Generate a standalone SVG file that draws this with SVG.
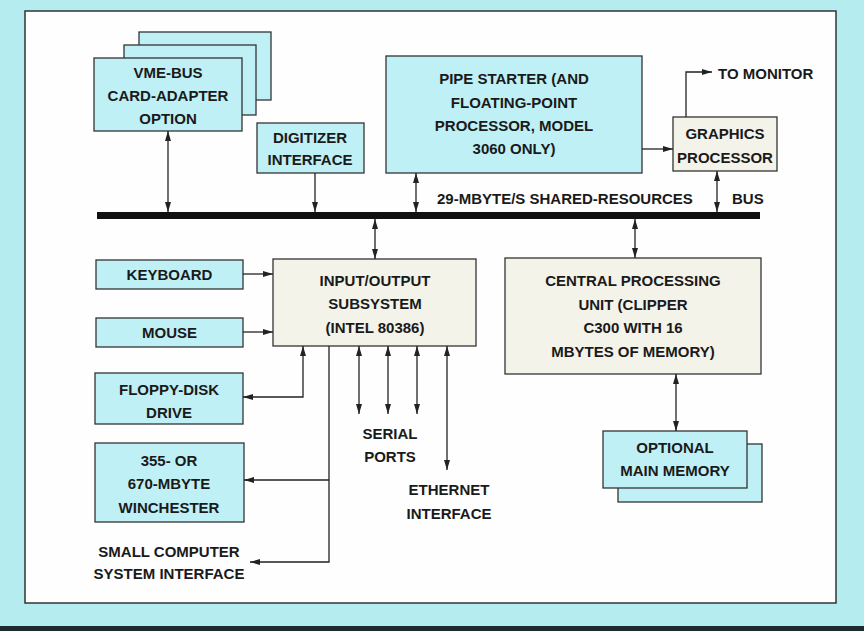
<svg xmlns="http://www.w3.org/2000/svg" width="864" height="631" viewBox="0 0 864 631">
<style>
.bx{fill:#bff0f5;stroke:#333;stroke-width:1.3}
.bg{fill:#f3f3ea;stroke:#333;stroke-width:1.3}
text{font-family:"Liberation Sans",Arial,sans-serif;font-size:15px;font-weight:bold;fill:#1a1a1a}
.m{text-anchor:middle}
.c line,.c path{stroke:#222;stroke-width:1.3;fill:none}
</style>
<defs>
<marker id="a" markerUnits="userSpaceOnUse" markerWidth="10" markerHeight="6" refX="10" refY="3" orient="auto-start-reverse">
<path d="M0,0 L10,3 L0,6 z" fill="#222"/>
</marker>
</defs>
<rect x="0" y="0" width="864" height="631" fill="#b5ecf0"/>
<rect x="0" y="626" width="864" height="5" fill="#1e2a2e"/>
<rect x="25" y="11" width="811" height="592" fill="#fefefe" stroke="#333" stroke-width="1.5"/>

<g id="vme">
<rect class="bx" x="139" y="32" width="132" height="68"/>
<rect class="bx" x="124" y="45" width="132" height="70"/>
<rect class="bx" x="94" y="58" width="148" height="73"/>
<text class="m" x="168" y="78">VME-BUS</text>
<text class="m" x="168" y="101">CARD-ADAPTER</text>
<text class="m" x="168" y="124">OPTION</text>
</g>
<g id="digitizer">
<rect class="bx" x="257" y="123" width="107" height="50"/>
<text class="m" x="310" y="143">DIGITIZER</text>
<text class="m" x="310" y="165">INTERFACE</text>
</g>
<g id="pipe">
<rect class="bx" x="386" y="56" width="256" height="117"/>
<text class="m" x="514" y="84">PIPE STARTER (AND</text>
<text class="m" x="514" y="108">FLOATING-POINT</text>
<text class="m" x="514" y="131">PROCESSOR, MODEL</text>
<text class="m" x="514" y="154">3060 ONLY)</text>
</g>
<g id="graphics">
<rect class="bg" x="673" y="117" width="104" height="54"/>
<text class="m" x="725" y="139">GRAPHICS</text>
<text class="m" x="725" y="163">PROCESSOR</text>
</g>
<g id="monitor"><text x="718" y="79">TO MONITOR</text></g>
<g id="bus">
<rect x="97" y="212" width="663" height="7" fill="#111"/>
<text x="437" y="204">29-MBYTE/S SHARED-RESOURCES</text>
<text x="732" y="204">BUS</text>
</g>
<g id="io">
<rect class="bg" x="273" y="259" width="203" height="87"/>
<text class="m" x="375" y="286">INPUT/OUTPUT</text>
<text class="m" x="375" y="309">SUBSYSTEM</text>
<text class="m" x="375" y="333">(INTEL 80386)</text>
</g>
<g id="cpu">
<rect class="bg" x="505" y="258" width="256" height="116"/>
<text class="m" x="633" y="286">CENTRAL PROCESSING</text>
<text class="m" x="633" y="310">UNIT (CLIPPER</text>
<text class="m" x="633" y="333">C300 WITH 16</text>
<text class="m" x="633" y="357">MBYTES OF MEMORY)</text>
</g>
<g id="memory">
<rect class="bx" x="618" y="444" width="144" height="58"/>
<rect class="bx" x="603" y="431" width="144" height="57"/>
<text class="m" x="675" y="453">OPTIONAL</text>
<text class="m" x="675" y="476">MAIN MEMORY</text>
</g>
<g id="keyboard">
<rect class="bx" x="96" y="260" width="147" height="29"/>
<text class="m" x="169.5" y="280">KEYBOARD</text>
</g>
<g id="mouse">
<rect class="bx" x="96" y="318" width="147" height="29"/>
<text class="m" x="169.5" y="338">MOUSE</text>
</g>
<g id="floppy">
<rect class="bx" x="95" y="373" width="148" height="51"/>
<text class="m" x="169" y="395">FLOPPY-DISK</text>
<text class="m" x="169" y="418">DRIVE</text>
</g>
<g id="winchester">
<rect class="bx" x="95" y="443" width="149" height="79"/>
<text class="m" x="169" y="466">355- OR</text>
<text class="m" x="169" y="489">670-MBYTE</text>
<text class="m" x="169" y="513">WINCHESTER</text>
</g>
<g id="scsi">
<text class="m" x="169" y="557">SMALL COMPUTER</text>
<text class="m" x="169" y="579">SYSTEM INTERFACE</text>
</g>
<g id="serial">
<text class="m" x="390" y="439">SERIAL</text>
<text class="m" x="390" y="462">PORTS</text>
</g>
<g id="ethernet">
<text class="m" x="449" y="495">ETHERNET</text>
<text class="m" x="449" y="519">INTERFACE</text>
</g>

<g class="c" id="connectors">
<line x1="168" y1="131" x2="168" y2="212" marker-start="url(#a)" marker-end="url(#a)"/>
<line x1="315" y1="173" x2="315" y2="212" marker-end="url(#a)"/>
<line x1="416" y1="173" x2="416" y2="212" marker-start="url(#a)" marker-end="url(#a)"/>
<line x1="642" y1="149" x2="673" y2="149" marker-end="url(#a)"/>
<path d="M686,117 V72 H712" marker-end="url(#a)"/>
<line x1="717" y1="171" x2="717" y2="212" marker-start="url(#a)" marker-end="url(#a)"/>
<line x1="375" y1="219" x2="375" y2="259" marker-start="url(#a)" marker-end="url(#a)"/>
<line x1="635" y1="219" x2="635" y2="258" marker-start="url(#a)" marker-end="url(#a)"/>
<line x1="676" y1="374" x2="676" y2="431" marker-start="url(#a)" marker-end="url(#a)"/>
<line x1="243" y1="274" x2="273" y2="274" marker-end="url(#a)"/>
<line x1="243" y1="332" x2="273" y2="332" marker-end="url(#a)"/>
<path d="M303,346 V397 H243" marker-start="url(#a)" marker-end="url(#a)"/>
<path d="M329,346 V562 H250" marker-end="url(#a)"/>
<path d="M329,480 H244" marker-end="url(#a)"/>
<line x1="359" y1="346" x2="359" y2="414" marker-start="url(#a)" marker-end="url(#a)"/>
<line x1="388" y1="346" x2="388" y2="414" marker-start="url(#a)" marker-end="url(#a)"/>
<line x1="417" y1="346" x2="417" y2="414" marker-start="url(#a)" marker-end="url(#a)"/>
<line x1="447" y1="346" x2="447" y2="470" marker-start="url(#a)" marker-end="url(#a)"/>
</g>
</svg>
